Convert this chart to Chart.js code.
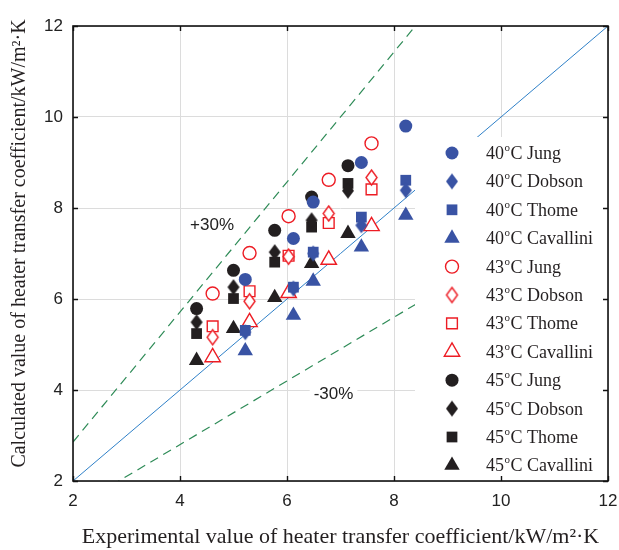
<!DOCTYPE html>
<html>
<head>
<meta charset="utf-8">
<script src="https://cdn.jsdelivr.net/npm/chart.js@4.4.1/dist/chart.umd.min.js"></script>
<style>
  html, body { margin: 0; padding: 0; background: #fff; }
  #wrap { position: relative; width: 619px; height: 550px; }
</style>
</head>
<body>
<div id="wrap"><canvas id="chart"></canvas></div>
<script>
// experimental values (x) for each saturation temperature
const expX40 = [5.22, 6.12, 6.49, 7.39, 8.22];
const expX43 = [4.61, 5.30, 6.03, 6.78, 7.58];
const expX45 = [4.31, 5.00, 5.77, 6.46, 7.14];

// calculated values (y) per correlation
const jung40 = [6.43, 7.33, 8.13, 9.00, 9.80];
const dobson40 = [5.27, 6.23, 7.00, 7.62, 8.39];
const thome40 = [5.31, 6.26, 7.03, 7.80, 8.61];
const cavallini40 = [4.86, 5.64, 6.39, 7.14, 7.84];

const jung43 = [6.12, 7.01, 7.82, 8.62, 9.42];
const dobson43 = [5.16, 5.95, 6.93, 7.88, 8.67];
const thome43 = [5.40, 6.17, 6.95, 7.67, 8.41];
const cavallini43 = [4.72, 5.49, 6.13, 6.86, 7.60];

const jung45 = [5.79, 6.63, 7.51, 8.24, 8.93];
const dobson45 = [5.49, 6.26, 7.03, 7.73, 8.38];
const thome45 = [5.24, 6.01, 6.81, 7.58, 8.54];
const cavallini45 = [4.65, 5.35, 6.03, 6.78, 7.44];

const temps = ['40', '43', '45'];
const models = ['Jung', 'Dobson', 'Thome', 'Cavallini'];
const axisMin = 2, axisMax = 12, axisStep = 2;

// reference lines y = k*x  (perfect agreement, +30%, -30%)
const refSlopes = [1, 1 / 0.7, 0.7];
const bandLabels = ['+30%', '-30%'];
const bandLabelPos = [[4.60, 7.62], [6.87, 3.91]];

const BLUE = '#3953a4', RED = '#ed1c24', BLACK = '#231f20';

function makeDiamond(fill, stroke, w, h, lw) {
    const c = document.createElement('canvas');
    const pad = Math.ceil(lw) + 1;
    c.width = w + pad * 2;
    c.height = h + pad * 2;
    const g = c.getContext('2d');
    const cx = c.width / 2, cy = c.height / 2;
    g.beginPath();
    g.moveTo(cx, cy - h / 2);
    g.lineTo(cx + w / 2, cy);
    g.lineTo(cx, cy + h / 2);
    g.lineTo(cx - w / 2, cy);
    g.closePath();
    g.fillStyle = fill;
    g.fill();
    if (lw > 0) {
        g.lineWidth = lw;
        g.strokeStyle = stroke;
        g.stroke();
    }
    return c;
}

function markerSet(color, hollow) {
    const fill = hollow ? '#ffffff' : color;
    const bw = hollow ? 1.4 : 0;
    return [
        { pointStyle: 'circle', pointRadius: 6.5, fill, bw },
        { pointStyle: makeDiamond(fill, color, hollow ? 11 : 12, hollow ? 15 : 16, bw), pointRadius: 8, fill, bw },
        { pointStyle: 'rect', pointRadius: 7.6, fill, bw },
        { pointStyle: 'triangle', pointRadius: 8.9, fill, bw }
    ];
}

const groups = [
    { t: temps[0], xs: expX40, ys: [jung40, dobson40, thome40, cavallini40], color: BLUE, hollow: false },
    { t: temps[1], xs: expX43, ys: [jung43, dobson43, thome43, cavallini43], color: RED, hollow: true },
    { t: temps[2], xs: expX45, ys: [jung45, dobson45, thome45, cavallini45], color: BLACK, hollow: false }
];

const datasets = [];
const legendItems = [];
groups.forEach(g => {
    const marks = markerSet(g.color, g.hollow);
    g.ys.forEach((vals, i) => {
        const m = marks[i];
        datasets.push({
            label: g.t + '°C ' + models[i],
            data: g.xs.map((x, k) => ({ x: x, y: vals[k] })),
            pointStyle: m.pointStyle,
            pointRadius: m.pointRadius,
            pointHoverRadius: m.pointRadius,
            pointBackgroundColor: m.fill,
            pointBorderColor: g.color,
            pointBorderWidth: m.bw,
            showLine: false,
            order: 1
        });
        legendItems.push({ t: g.t, name: models[i], mark: m, color: g.color });
    });
});

const refStyles = [
    { color: '#2f80c8', dash: [], width: 1 },
    { color: '#2e8b57', dash: [9, 6], width: 1.2 },
    { color: '#2e8b57', dash: [9, 6], width: 1.2 }
];
refSlopes.forEach((k, i) => {
    datasets.push({
        label: 'ref' + i,
        data: [{ x: axisMin, y: axisMin * k }, { x: axisMax, y: axisMax * k }],
        showLine: true,
        pointRadius: 0,
        borderColor: refStyles[i].color,
        borderDash: refStyles[i].dash,
        borderWidth: refStyles[i].width,
        fill: false,
        order: 10
    });
});

const overlayPlugin = {
    id: 'overlay',
    afterDatasetsDraw(chart) {
        const { ctx, chartArea: ca, scales } = chart;
        const xs = scales.x, ys = scales.y;
        ctx.save();

        // +30% / -30% labels
        ctx.font = '17px "Liberation Sans", Arial, sans-serif';
        ctx.textAlign = 'center';
        ctx.textBaseline = 'middle';
        bandLabels.forEach((txt, i) => {
            const px = xs.getPixelForValue(bandLabelPos[i][0]);
            const py = ys.getPixelForValue(bandLabelPos[i][1]);
            if (i === 1) {
                const w = ctx.measureText(txt).width;
                ctx.fillStyle = '#fff';
                ctx.fillRect(px - w / 2 - 4, py - 11, w + 8, 22);
            }
            ctx.fillStyle = '#222';
            ctx.fillText(txt, px, py);
        });

        // legend box
        const bx = ca.right - 193, by = ca.top + 111;
        ctx.fillStyle = '#fff';
        ctx.fillRect(bx, by, ca.right - bx, ca.bottom - by);
        const rowH = 28.4, firstY = by + 16;
        const mx = bx + 37, tx = bx + 71;
        legendItems.forEach((it, i) => {
            const y = firstY + i * rowH;
            ctx.fillStyle = it.mark.fill;
            ctx.strokeStyle = it.color;
            ctx.lineWidth = it.mark.bw;
            Chart.helpers.drawPoint(ctx, {
                pointStyle: it.mark.pointStyle,
                radius: it.mark.pointRadius,
                rotation: 0,
                borderWidth: it.mark.bw
            }, mx, y);
            ctx.fillStyle = BLACK;
            ctx.textAlign = 'left';
            ctx.textBaseline = 'alphabetic';
            ctx.font = '18px "Liberation Serif", "Times New Roman", serif';
            const base = y + 6;
            ctx.fillText(it.t, tx, base);
            let w = ctx.measureText(it.t).width;
            ctx.font = '11px "Liberation Serif", "Times New Roman", serif';
            ctx.fillText('o', tx + w + 0.5, base - 8);
            w += ctx.measureText('o').width + 1;
            ctx.font = '18px "Liberation Serif", "Times New Roman", serif';
            ctx.fillText('C ' + it.name, tx + w, base);
        });

        // frame and inward ticks
        ctx.strokeStyle = '#111';
        ctx.lineWidth = 1.6;
        ctx.strokeRect(ca.left, ca.top, ca.right - ca.left, ca.bottom - ca.top);
        ctx.lineWidth = 1.4;
        ctx.beginPath();
        for (let v = axisMin; v <= axisMax; v += axisStep) {
            const px = Math.round(xs.getPixelForValue(v)) + 0.5;
            ctx.moveTo(px, ca.bottom); ctx.lineTo(px, ca.bottom - 5);
            ctx.moveTo(px, ca.top); ctx.lineTo(px, ca.top + 5);
            const py = Math.round(ys.getPixelForValue(v)) + 0.5;
            ctx.moveTo(ca.left, py); ctx.lineTo(ca.left + 5, py);
            ctx.moveTo(ca.right, py); ctx.lineTo(ca.right - 5, py);
        }
        ctx.stroke();
        ctx.restore();
    }
};

const tickFont = { family: '"Liberation Sans", Arial, sans-serif', size: 17 };
const titleFamily = '"Liberation Serif", "Times New Roman", serif';

new Chart(document.getElementById('chart'), {
    type: 'scatter',
    data: { datasets: datasets },
    options: {
        responsive: true,
        maintainAspectRatio: false,
        animation: false,
        layout: { padding: { top: 26, right: 11, left: 0, bottom: 0 } },
        plugins: {
            legend: { display: false },
            tooltip: { enabled: false }
        },
        scales: {
            x: {
                type: 'linear',
                min: axisMin,
                max: axisMax,
                afterFit: s => { s.height = 69; s.paddingLeft = 0; s.paddingRight = 0; },
                ticks: { stepSize: axisStep, color: '#222', font: tickFont, padding: 10 },
                grid: { color: '#dcdcdc', lineWidth: 1, drawTicks: false },
                border: { display: false },
                title: {
                    display: true,
                    text: 'Experimental value of heater transfer coefficient/kW/m²·K',
                    color: BLACK,
                    font: { family: titleFamily, size: 22 },
                    padding: { top: 0, bottom: 0 }
                }
            },
            y: {
                type: 'linear',
                min: axisMin,
                max: axisMax,
                afterFit: s => { s.width = 73; s.paddingTop = 0; s.paddingBottom = 0; },
                ticks: { stepSize: axisStep, color: '#222', font: tickFont, padding: 10 },
                grid: { color: '#dcdcdc', lineWidth: 1, drawTicks: false },
                border: { display: false },
                title: {
                    display: true,
                    text: '\u00a0\u00a0\u00a0\u00a0Calculated value of heater transfer coefficient/kW/m²·K',
                    color: BLACK,
                    font: { family: titleFamily, size: 20 },
                    padding: { top: 8, bottom: 0 }
                }
            }
        }
    },
    plugins: [overlayPlugin]
});
</script>
</body>
</html>
